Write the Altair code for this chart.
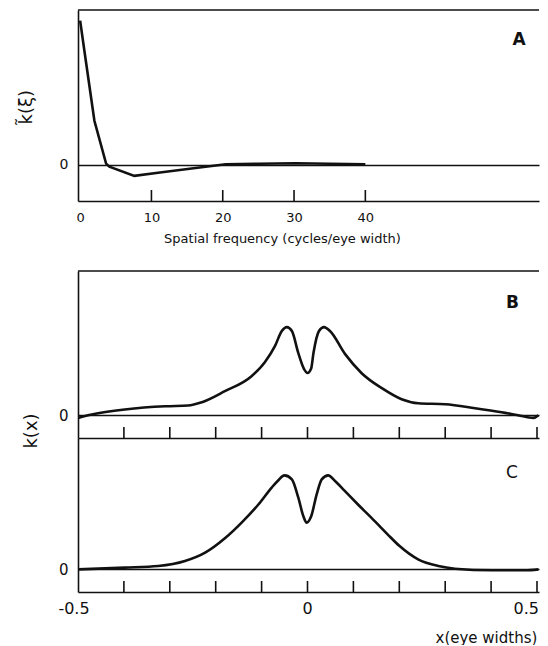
import altair as alt
import pandas as pd

FONT = "DejaVu Sans"
INK = "#111111"

# ---------------- data ----------------
# Panel A: kernel spectrum k~(xi) vs spatial frequency
a_freq = [0.0, 0.6, 2.0, 3.64, 4.1, 7.6, 11.2, 14.8, 20.4, 25.0, 30.2, 35.0, 40.0]
a_k = [1.0, 0.79, 0.306, 0.009, -0.012, -0.076, -0.052, -0.03, 0.005, 0.008, 0.012, 0.008, 0.005]
a_ticks = [10, 20, 30, 40]
a_labels = [0, 10, 20, 30, 40]

# Panel B: k(x)
b_x = [-0.5, -0.47, -0.398, -0.31, -0.26, -0.23, -0.18, -0.122, -0.093, -0.071, -0.056,
       -0.045, -0.034, -0.02, -0.008, 0.0, 0.008, 0.013, 0.025, 0.036, 0.049, 0.082,
       0.118, 0.162, 0.205, 0.241, 0.3, 0.365, 0.423, 0.459, 0.492, 0.503]
b_k = [-0.03, 0.008, 0.065, 0.102, 0.11, 0.148, 0.273, 0.443, 0.602, 0.784, 0.955,
       1.0, 0.955, 0.705, 0.53, 0.48, 0.53, 0.705, 0.955, 1.0, 0.955, 0.693,
       0.477, 0.307, 0.182, 0.136, 0.125, 0.08, 0.034, 0.0, -0.03, 0.0]

# Panel C: k(x)
c_x = [-0.5, -0.398, -0.325, -0.267, -0.223, -0.18, -0.143, -0.107, -0.078, -0.065,
       -0.05, -0.034, -0.02, -0.009, -0.002, 0.008, 0.02, 0.031, 0.045, 0.06,
       0.08, 0.11, 0.147, 0.175, 0.2, 0.241, 0.285, 0.321, 0.401, 0.474, 0.503]
c_k = [0.0, 0.018, 0.035, 0.088, 0.177, 0.33, 0.5, 0.69, 0.87, 0.94,
       1.0, 0.957, 0.762, 0.564, 0.496, 0.564, 0.798, 0.957, 1.0, 0.94,
       0.84, 0.69, 0.51, 0.37, 0.25, 0.106, 0.035, 0.007, -0.01, -0.01, 0.0]

bc_ticks = [-0.4, -0.3, -0.2, -0.1, 0.0, 0.1, 0.2, 0.3, 0.4, 0.5]
c_label_left = [-0.5]
c_label_mid = [0.0]
c_label_end = [0.5]

# ---------------- layout ----------------
W = 461
HA, HB, HC = 191, 167, 154
TICK = 11
X_SLOPE = 459.0          # px per unit of x (eye widths)
A_SLOPE = 7.13           # px per cycle/eye width

one = pd.DataFrame({"z": [0]})


def top_rule():
    return alt.Chart(one).mark_rule(color=INK, strokeWidth=1.6).encode(
        x=alt.value(0), x2=alt.value(W), y=alt.value(0))


def panel_label(txt, x, y, weight):
    return alt.Chart(pd.DataFrame({"t": [txt]})).mark_text(
        font=FONT, fontSize=17, fontWeight=weight, color=INK
    ).encode(x=alt.value(x), y=alt.value(y), text="t:N")


def y_axis(title, tx, ty, fs):
    kw = dict(values=[0], format="d", ticks=False, grid=True, gridColor=INK,
              gridWidth=1.3, gridOpacity=1, domain=True, domainColor=INK,
              domainWidth=1.6, labelFontSize=fs, labelPadding=10)
    if title:
        kw.update(title=title, titleFontSize=18, titleFontWeight="normal",
                  titleX=tx, titleY=ty, titleAngle=270, titleBaseline="middle",
                  titleAlign="center")
    else:
        kw.update(title=None)
    return alt.Axis(**kw)


def c_label(vals, txt, align, dx):
    return alt.Chart(pd.DataFrame({"x": vals, "s": txt})).mark_text(
        font=FONT, fontSize=16, color=INK, baseline="middle", align=align, dx=dx
    ).encode(x=alt.X("x:Q"), y=alt.value(HC + 17), text="s:N")


# ---- Panel A ----
dfa = pd.DataFrame({"f": a_freq, "k": a_k})
xa_scale = alt.Scale(domain=[-0.3, -0.3 + W / A_SLOPE], nice=False, zero=False)
ya_scale = alt.Scale(domain=[-0.25, 1.074], nice=False, zero=False)
line_a = alt.Chart(dfa).mark_line(color=INK, strokeWidth=2.6, clip=True).encode(
    x=alt.X("f:Q", scale=xa_scale,
            axis=alt.Axis(values=a_labels, format="d", ticks=False, grid=False,
                          domain=True, domainColor=INK, domainWidth=1.6,
                          labelFontSize=13, labelPadding=10, labelFlush=False,
                          title="Spatial frequency (cycles/eye width)",
                          titleFontSize=13, titleFontWeight="normal",
                          titleX=204, titleY=37.5, titleBaseline="middle",
                          titleAlign="center")),
    y=alt.Y("k:Q", scale=ya_scale, axis=y_axis("k\u0303(\u03be)", -52, 96.7, 14)),
)
ticks_a = alt.Chart(pd.DataFrame({"f": a_ticks})).mark_rule(color=INK, strokeWidth=1.6).encode(
    x=alt.X("f:Q"), y=alt.value(HA), y2=alt.value(HA - TICK))
panel_a = alt.layer(line_a, ticks_a, top_rule(), panel_label("A", 441, 30, "bold")).properties(
    width=W, height=HA)

# ---- Panel B ----
xbc_scale = alt.Scale(domain=[-0.5, -0.5 + W / X_SLOPE], nice=False, zero=False)
dfb = pd.DataFrame({"x": b_x, "k": b_k})
line_b = alt.Chart(dfb).mark_line(color=INK, strokeWidth=2.6, interpolate="monotone", clip=True).encode(
    x=alt.X("x:Q", scale=xbc_scale,
            axis=alt.Axis(labels=False, ticks=False, grid=False, domain=True,
                          domainColor=INK, domainWidth=1.6, title=None)),
    y=alt.Y("k:Q", scale=alt.Scale(domain=[-0.258, 1.636], nice=False, zero=False),
            axis=y_axis("k(x)", -47, 159.5, 15)),
)
ticks_b = alt.Chart(pd.DataFrame({"x": bc_ticks})).mark_rule(color=INK, strokeWidth=1.6).encode(
    x=alt.X("x:Q"), y=alt.value(HB), y2=alt.value(HB - TICK))
panel_b = alt.layer(line_b, ticks_b, top_rule(), panel_label("B", 434.5, 31.5, "bold")).properties(
    width=W, height=HB)

# ---- Panel C ----
dfc = pd.DataFrame({"x": c_x, "k": c_k})
line_c = alt.Chart(dfc).mark_line(color=INK, strokeWidth=2.6, interpolate="monotone", clip=True).encode(
    x=alt.X("x:Q", scale=xbc_scale,
            axis=alt.Axis(labels=False, ticks=False, grid=False, domain=True,
                          domainColor=INK, domainWidth=1.6,
                          title="x(eye widths)", titleFontSize=15,
                          titleFontWeight="normal", titleX=357, titleY=45,
                          titleAlign="left", titleBaseline="middle")),
    y=alt.Y("k:Q", scale=alt.Scale(domain=[-0.241, 1.397], nice=False, zero=False),
            axis=y_axis(None, 0, 0, 15)),
)
ticks_c = alt.Chart(pd.DataFrame({"x": bc_ticks})).mark_rule(color=INK, strokeWidth=1.6).encode(
    x=alt.X("x:Q"), y=alt.value(HC), y2=alt.value(HC - TICK))
panel_c = alt.layer(
    line_c, ticks_c,
    c_label(c_label_left, ["-0.5"], "center", -4),
    c_label(c_label_mid, ["0"], "center", 0),
    c_label(c_label_end, ["0.5"], "right", 2),
    panel_label("C", 434, 35, "normal"),
).properties(width=W, height=HC)

bc = alt.vconcat(panel_b, panel_c, spacing=0, bounds="flush")
chart = alt.vconcat(panel_a, bc, spacing=70, bounds="flush").properties(
    padding={"left": 8, "top": 1, "right": 0, "bottom": 0},
    background="white",
).configure_view(stroke=None).configure_axis(
    labelFont=FONT, titleFont=FONT, labelColor=INK, titleColor=INK
)

chart.save("out.html", embed_options={"renderer": "svg", "actions": False})
